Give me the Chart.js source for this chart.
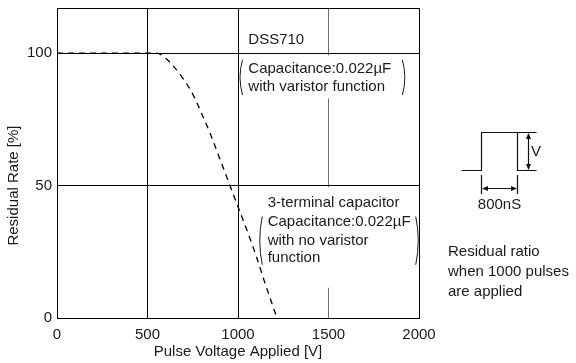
<!DOCTYPE html>
<html><head><meta charset="utf-8">
<script src="https://cdn.jsdelivr.net/npm/chart.js@4"></script>
<style>html,body{margin:0;padding:0;background:#fff;}canvas{display:block;}</style>
</head><body>
<canvas id="c" width="576" height="363"></canvas>
<script>
// ---- data ----
const xTickValues = [0, 500, 1000, 1500, 2000];
const yTickValues = [0, 50, 100];
const pulseVoltage = [0, 550, 600, 650, 700, 750, 800, 850, 900, 950, 1000, 1050, 1100, 1150, 1180, 1215];
const residualRate = [100, 100, 98, 94.5, 90, 84.5, 77, 69, 60, 51, 42, 33, 23.5, 13, 7, 0];
const xAxisTitle = 'Pulse Voltage Applied [V]';
const yAxisTitle = 'Residual Rate [%]';
const seriesName = 'DSS710';
const note1 = ['Capacitance:0.022\u00b5F', 'with varistor function'];
const note2 = ['3-terminal capacitor', 'Capacitance:0.022\u00b5F', 'with no varistor', 'function'];
const sideNote = ['Residual ratio', 'when 1000 pulses', 'are applied'];
const pulseWidthLabel = '800nS';
const pulseHeightLabel = 'V';

const FAMILY = '"Liberation Sans", Arial, sans-serif';
const FONT = '15px ' + FAMILY;
const INK = '#1a1a1a';

const points = pulseVoltage.map((v, i) => ({x: v, y: residualRate[i]}));

function paren(ctx, x, top, bot, dir) {
  ctx.beginPath();
  ctx.moveTo(x, top);
  ctx.quadraticCurveTo(x + dir * 5, (top + bot) / 2, x, bot);
  ctx.stroke();
}
function arrowHead(ctx, x, y, dx, dy) {
  const L = 6, W = 2.5;
  ctx.beginPath();
  ctx.moveTo(x, y);
  ctx.lineTo(x - dx * L - dy * W, y - dy * L + dx * W);
  ctx.lineTo(x - dx * L + dy * W, y - dy * L - dx * W);
  ctx.closePath();
  ctx.fill();
}

const decor = {
  id: 'decor',
  beforeDatasetsDraw(chart) {
    const {ctx, scales: {x, y}} = chart;
    ctx.save();
    ctx.fillStyle = '#fff';
    const px = x.getPixelForValue(1500);
    [[99.1, 82.9], [49.4, 11.4]].forEach(([a, b]) => {
      const t = y.getPixelForValue(a), bt = y.getPixelForValue(b);
      ctx.fillRect(px - 2, t, 4, bt - t);
    });
    ctx.restore();
  },
  afterDraw(chart) {
    const {ctx, chartArea: ca, scales: {x, y}} = chart;
    ctx.save();
    ctx.strokeStyle = '#000';
    ctx.lineWidth = 1;
    ctx.strokeRect(Math.round(ca.left) + 0.5, Math.round(ca.top) + 0.5,
                   Math.round(ca.right) - Math.round(ca.left), Math.round(ca.bottom) - Math.round(ca.top));
    ctx.font = FONT;
    ctx.fillStyle = INK;
    ctx.strokeStyle = INK;
    ctx.textBaseline = 'middle';
    ctx.textAlign = 'left';
    ctx.fillText(seriesName, x.getPixelForValue(1057), y.getPixelForValue(104.8));
    ctx.fillText(note1[0], x.getPixelForValue(1057), y.getPixelForValue(94.1));
    ctx.fillText(note1[1], x.getPixelForValue(1057), y.getPixelForValue(87.2));
    paren(ctx, x.getPixelForValue(1025), y.getPixelForValue(97.5), y.getPixelForValue(84.1), -1);
    paren(ctx, x.getPixelForValue(1908), y.getPixelForValue(97.5), y.getPixelForValue(84.1), 1);
    const ys2 = [43.5, 36.4, 29.2, 22.6];
    note2.forEach((t, i) => ctx.fillText(t, x.getPixelForValue(1164), y.getPixelForValue(ys2[i])));
    paren(ctx, x.getPixelForValue(1134), y.getPixelForValue(38.3), y.getPixelForValue(20.1), -1);
    paren(ctx, x.getPixelForValue(1982), y.getPixelForValue(38.3), y.getPixelForValue(20.1), 1);

    ctx.textAlign = 'center';
    ctx.fillText(xAxisTitle, x.getPixelForValue(1000), 352);
    ctx.save();
    ctx.translate(14, y.getPixelForValue(50));
    ctx.rotate(-Math.PI / 2);
    ctx.fillText(yAxisTitle, 0, 0);
    ctx.restore();

    // pulse diagram
    ctx.lineWidth = 1.2;
    ctx.strokeStyle = '#111';
    ctx.fillStyle = '#111';
    ctx.beginPath();
    ctx.moveTo(461.5, 170.5); ctx.lineTo(481.5, 170.5); ctx.lineTo(481.5, 132.5);
    ctx.lineTo(517.5, 132.5); ctx.lineTo(517.5, 170.5); ctx.lineTo(536.5, 170.5);
    ctx.moveTo(517.5, 132.5); ctx.lineTo(536.5, 132.5);
    ctx.moveTo(481.5, 175); ctx.lineTo(481.5, 194);
    ctx.moveTo(517.5, 175); ctx.lineTo(517.5, 194);
    ctx.moveTo(528.5, 134); ctx.lineTo(528.5, 169);
    ctx.moveTo(483, 188.5); ctx.lineTo(516, 188.5);
    ctx.stroke();
    arrowHead(ctx, 528.5, 133, 0, -1);
    arrowHead(ctx, 528.5, 170, 0, 1);
    arrowHead(ctx, 482, 188.5, -1, 0);
    arrowHead(ctx, 517, 188.5, 1, 0);
    ctx.fillStyle = INK;
    ctx.textAlign = 'left';
    ctx.fillText(pulseHeightLabel, 531, 152);
    ctx.textAlign = 'center';
    ctx.fillText(pulseWidthLabel, 499.5, 205);
    ctx.textAlign = 'left';
    [251.7, 272.3, 292.3].forEach((yy, i) => ctx.fillText(sideNote[i], 448, yy));
    ctx.restore();
  }
};

new Chart(document.getElementById('c'), {
  type: 'line',
  data: {
    datasets: [{
      label: seriesName,
      data: points,
      borderColor: '#000',
      borderWidth: 1.3,
      borderDash: [6, 5],
      pointRadius: 0,
      fill: false,
      cubicInterpolationMode: 'monotone'
    }]
  },
  options: {
    responsive: false,
    animation: false,
    devicePixelRatio: 1,
    layout: {padding: {top: 8, right: 157, left: 0, bottom: 0}},
    plugins: {legend: {display: false}, tooltip: {enabled: false}},
    scales: {
      x: {
        type: 'linear', min: 0, max: 2000,
        ticks: {stepSize: 500, padding: 8, color: INK, font: {family: FAMILY, size: 15}, maxRotation: 0, callback: v => String(v)},
        afterBuildTicks: s => { s.ticks = xTickValues.map(v => ({value: v})); },
        grid: {drawTicks: false, lineWidth: 1, color: c => (c.tick && c.tick.value === 1500) ? '#6e6e6e' : '#000'},
        border: {display: true, color: '#000'},
        afterFit: s => { s.height = 45; s.paddingLeft = 0; s.paddingRight = 0; }
      },
      y: {
        type: 'linear', min: 0, max: 117,
        ticks: {stepSize: 50, padding: 5, color: INK, font: {family: FAMILY, size: 15}, callback: v => String(v)},
        afterBuildTicks: s => { s.ticks = yTickValues.map(v => ({value: v})); },
        grid: {drawTicks: false, lineWidth: 1, color: '#000'},
        border: {display: true, color: '#000'},
        afterFit: s => { s.width = 57; s.paddingTop = 0; s.paddingBottom = 0; }
      }
    }
  },
  plugins: [decor]
});
</script>
</body></html>
